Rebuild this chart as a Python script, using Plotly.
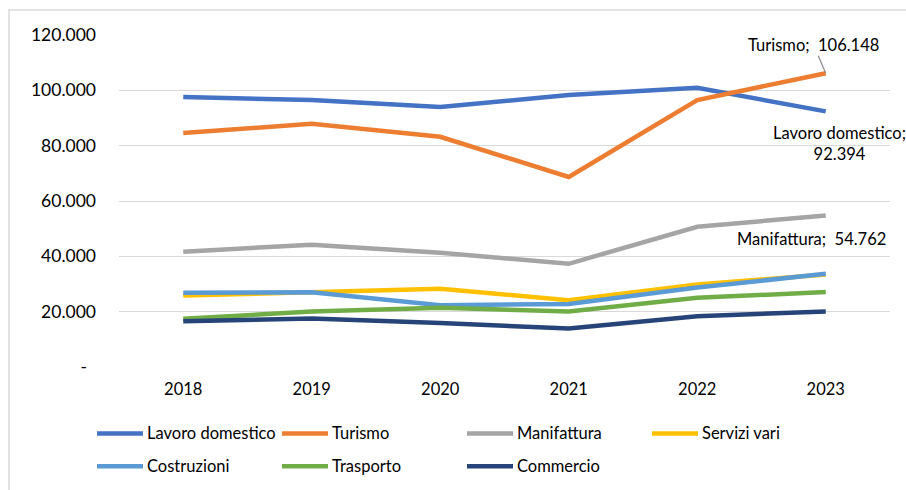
import plotly.graph_objects as go

# Occupati per settore, 2018-2023
years = [2018, 2019, 2020, 2021, 2022, 2023]
lavoro_domestico = [97600, 96500, 94000, 98300, 100900, 92394]
turismo = [84600, 87900, 83200, 68700, 96500, 106148]
manifattura = [41700, 44200, 41300, 37300, 50700, 54762]
servizi_vari = [25800, 27200, 28300, 24100, 29800, 33400]
costruzioni = [26800, 27000, 22300, 22800, 28700, 33700]
trasporto = [17400, 20100, 21400, 20100, 25000, 27100]
commercio = [16500, 17500, 15900, 13900, 18300, 20100]

series_names = ["Lavoro domestico", "Turismo", "Manifattura", "Servizi vari",
                "Costruzioni", "Trasporto", "Commercio"]
series_values = [lavoro_domestico, turismo, manifattura, servizi_vari,
                 costruzioni, trasporto, commercio]
colors = ["#4472C4", "#ED7D31", "#A5A5A5", "#FFC000",
          "#5B9BD5", "#70AD47", "#264478"]

y_tickvals = [0, 20000, 40000, 60000, 80000, 100000, 120000]
y_ticktext = ["-\u00a0\u00a0", "20.000", "40.000", "60.000", "80.000", "100.000", "120.000"]

FONT = "Lato, Liberation Sans, sans-serif"
W, H = 906, 490
L, R, T, B = 119, 16, 35, 122.5
plot_w = W - L - R
plot_h = H - T - B


def fmt_it(v):
    return f"{v:,}".replace(",", ".")


def px_x(px):
    return (px - L) / plot_w


def px_y(py):
    return (H - B - py) / plot_h


fig = go.Figure()
for name, vals, col in zip(series_names, series_values, colors):
    fig.add_trace(go.Scatter(
        x=years, y=vals, name=name, mode="lines",
        line=dict(color=col, width=4.5),
        showlegend=False, hoverinfo="x+y+name",
    ))

annotations = []
# Data labels on the last point
annotations.append(dict(
    x=years[-1], y=turismo[-1], xref="x", yref="y",
    text=f"Turismo;\u00a0 {fmt_it(turismo[-1])}", showarrow=True,
    ax=-12, ay=-28, arrowhead=0, arrowwidth=1.2, arrowcolor="#8C8C8C",
    standoff=0, startstandoff=0, borderpad=0,
    font=dict(family=FONT, size=16.5, color="#000000"),
))
annotations.append(dict(
    x=years[-1], y=lavoro_domestico[-1], xref="x", yref="y",
    text=f"Lavoro domestico;<br>{fmt_it(lavoro_domestico[-1])}", showarrow=False,
    xshift=14, yshift=-32, align="center",
    font=dict(family=FONT, size=16.5, color="#000000"),
))
annotations.append(dict(
    x=years[-1], y=manifattura[-1], xref="x", yref="y",
    text=f"Manifattura;\u00a0 {fmt_it(manifattura[-1])}", showarrow=False,
    xshift=-14, yshift=-24,
    font=dict(family=FONT, size=16.5, color="#000000"),
))

# Legend drawn as two rows of four columns
shapes = []
col_x = [97, 282, 467, 652]
row_y = [434, 467]
for i, (name, col) in enumerate(zip(series_names, colors)):
    r, c = divmod(i, 4)
    x0 = col_x[c]
    y0 = row_y[r]
    shapes.append(dict(
        type="line", xref="paper", yref="paper",
        x0=px_x(x0), x1=px_x(x0 + 46), y0=px_y(y0), y1=px_y(y0),
        line=dict(color=col, width=4.5),
    ))
    annotations.append(dict(
        x=px_x(x0 + 48), y=px_y(y0), xref="paper", yref="paper",
        text=name, showarrow=False, xanchor="left", yanchor="middle",
        font=dict(family=FONT, size=16.5, color="#000000"),
    ))

# Chart area border
shapes.append(dict(
    type="rect", xref="paper", yref="paper",
    x0=px_x(9), x1=px_x(W + 10), y0=px_y(H + 10), y1=px_y(10),
    line=dict(color="#D9D9D9", width=1.5), fillcolor="rgba(0,0,0,0)", layer="below",
))

fig.update_layout(
    width=W, height=H,
    margin=dict(l=L, r=R, t=T, b=B),
    paper_bgcolor="white", plot_bgcolor="white",
    font=dict(family=FONT, size=16, color="#000000"),
    xaxis=dict(
        range=[2017.5, 2023.5], tickvals=years, ticktext=[str(y) for y in years],
        showgrid=False, showline=False, zeroline=False,
        ticks="", tickfont=dict(family=FONT, size=16.5, color="#000000"),
        ticklabelstandoff=10,
    ),
    yaxis=dict(
        range=[0, 120000], tickvals=y_tickvals, ticktext=y_ticktext,
        showgrid=True, gridcolor="#D9D9D9", gridwidth=1.3,
        zeroline=False, showline=False, ticks="",
        tickfont=dict(family=FONT, size=17.5, color="#000000"),
        ticklabelstandoff=22,
    ),
    annotations=annotations,
    shapes=shapes,
    showlegend=False,
)

fig.write_html("out.html")
